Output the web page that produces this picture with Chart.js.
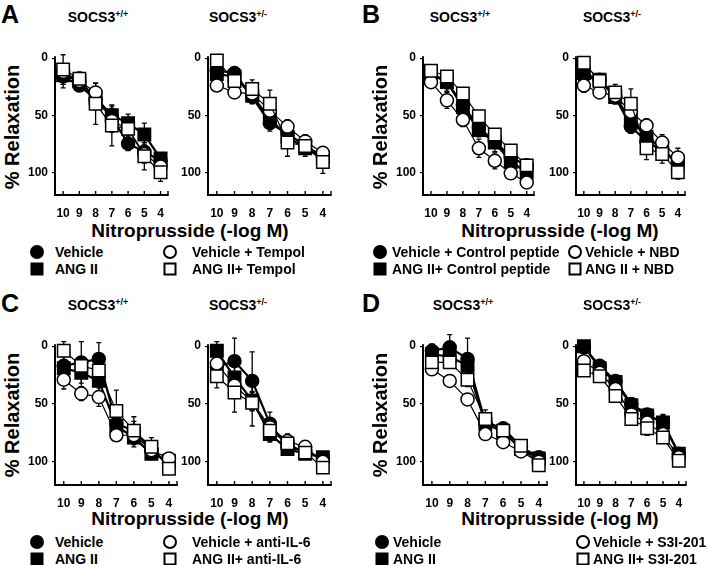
<!DOCTYPE html>
<html>
<head>
<meta charset="utf-8">
<script src="https://cdn.jsdelivr.net/npm/chart.js@4.4.1/dist/chart.umd.min.js"></script>
<style>
  body { margin: 0; background: #fff; }
  #fig { position: relative; width: 709px; height: 565px; overflow: hidden;
         font-family: "Liberation Sans", Arial, sans-serif; font-weight: bold; color: #000; }
  #fig canvas { position: absolute; }
  .t { position: absolute; white-space: nowrap; line-height: 1; }
  .c { transform: translate(-50%, -50%); }
  .letter { font-size: 25px; }
  .title { font-size: 14px; }
  .title sup { font-size: 9px; vertical-align: 5px; }
  .ytitle { font-size: 20px; transform: translate(-50%, -50%) rotate(-90deg); }
  .xtitle { font-size: 19px; }
  .leg { font-size: 14px; transform: translateY(-50%); }
  .mk { position: absolute; box-sizing: border-box; transform: translate(-50%, -50%); }
</style>
</head>
<body>
<div id="fig"></div>
<script>
// -log M of nitroprusside
var doses = [10, 9, 8, 7, 6, 5, 4];
var yTicks = [0, 50, 100];

// A: Tempol
var aWtVeh = [16, 24, 36, 52, 75, 82, 90];   var aWtVehSem = [10, 5, 8, 8, 6, 8, 4];
var aWtAng = [15, 20, 35, 50, 57, 67, 88];   var aWtAngSem = [8, 6, 10, 8, 8, 10, 5];
var aWtVehX = [12, 20, 30, 55, 62, 84, 95];  var aWtVehXSem = [6, 5, 8, 10, 8, 8, 6];
var aWtAngX = [10, 18, 40, 59, 62, 86, 100]; var aWtAngXSem = [13, 6, 18, 18, 10, 12, 8];
var aHetVeh = [11, 13, 34, 57, 66, 77, 86];  var aHetVehSem = [5, 5, 6, 7, 6, 5, 4];
var aHetAng = [14, 16, 33, 53, 69, 79, 87];  var aHetAngSem = [5, 4, 6, 6, 6, 5, 4];
var aHetVehX = [24, 30, 31, 46, 60, 73, 83]; var aHetVehXSem = [5, 4, 5, 6, 6, 6, 5];
var aHetAngX = [2, 20, 27, 40, 74, 77, 91];  var aHetAngXSem = [3, 5, 8, 12, 12, 9, 10];

// B: NBD
var bWtVeh = [13, 21, 41, 61, 73, 87, 94];   var bWtVehSem = [4, 6, 6, 6, 6, 5, 4];
var bWtAng = [14, 21, 43, 63, 74, 91, 100];  var bWtAngSem = [4, 8, 6, 6, 8, 5, 4];
var bWtVehX = [21, 37, 54, 79, 90, 101, 109]; var bWtVehXSem = [5, 7, 6, 8, 7, 4, 4];
var bWtAngX = [11, 16, 31, 51, 67, 81, 94];  var bWtAngXSem = [3, 3, 4, 4, 5, 4, 4];
var bHetVeh = [16, 19, 34, 60, 73, 81, 91];  var bHetVehSem = [8, 5, 6, 6, 5, 5, 5];
var bHetAng = [13, 19, 34, 54, 69, 79, 94];  var bHetAngSem = [5, 4, 6, 6, 6, 5, 5];
var bHetVehX = [24, 30, 33, 47, 59, 74, 87]; var bHetVehXSem = [6, 5, 5, 6, 6, 7, 8];
var bHetAngX = [4, 20, 30, 40, 79, 84, 100]; var bHetAngXSem = [4, 5, 7, 13, 10, 8, 6];

// C: anti-IL-6
var cWtVeh = [17, 14, 11, 67, 73, 90, 101];  var cWtVehSem = [16, 18, 14, 10, 8, 6, 3];
var cWtAng = [19, 23, 30, 69, 79, 93, 99];   var cWtAngSem = [10, 12, 10, 8, 8, 5, 3];
var cWtVehX = [29, 41, 44, 77, 77, 90, 97];  var cWtVehXSem = [8, 6, 8, 5, 5, 5, 3];
var cWtAngX = [4, 17, 21, 56, 73, 87, 106];  var cWtAngXSem = [8, 8, 10, 18, 12, 8, 4];
var cHetVeh = [18, 13, 30, 67, 87, 91, 97];  var cHetVehSem = [8, 20, 25, 10, 6, 5, 3];
var cHetAng = [4, 27, 47, 76, 89, 93, 96];   var cHetAngSem = [8, 10, 8, 6, 5, 4, 3];
var cHetVehX = [15, 34, 48, 70, 82, 87, 100]; var cHetVehXSem = [8, 8, 8, 6, 6, 4, 3];
var cHetAngX = [26, 40, 49, 73, 84, 92, 105]; var cHetAngXSem = [10, 17, 20, 10, 8, 5, 3];

// D: S3I-201
var dWtVeh = [4, 1, 11, 66, 71, 87, 96];     var dWtVehSem = [6, 11, 18, 6, 5, 4, 3];
var dWtAng = [7, 9, 17, 67, 74, 89, 97];     var dWtAngSem = [5, 6, 8, 7, 6, 4, 3];
var dWtVehX = [20, 30, 46, 76, 83, 91, 100]; var dWtVehXSem = [5, 5, 5, 5, 4, 4, 3];
var dWtAngX = [14, 14, 29, 63, 73, 86, 103]; var dWtAngXSem = [5, 5, 6, 8, 7, 5, 3];
var dHetVeh = [1, 17, 30, 50, 59, 66, 93];   var dHetVehSem = [2, 4, 4, 4, 5, 6, 3];
var dHetAng = [0, 19, 31, 51, 60, 66, 93];   var dHetAngSem = [2, 4, 4, 4, 5, 7, 3];
var dHetVehX = [13, 23, 37, 59, 66, 76, 96]; var dHetVehXSem = [3, 4, 5, 5, 6, 5, 3];
var dHetAngX = [21, 26, 43, 63, 71, 79, 99]; var dHetAngXSem = [3, 4, 5, 5, 6, 5, 3];

var legA = ['Vehicle', 'ANG II', 'Vehicle + Tempol', 'ANG II+ Tempol'];
var legB = ['Vehicle + Control peptide', 'ANG II+ Control peptide', 'Vehicle + NBD', 'ANG II + NBD'];
var legC = ['Vehicle', 'ANG II', 'Vehicle + anti-IL-6', 'ANG II+ anti-IL-6'];
var legD = ['Vehicle', 'ANG II', 'Vehicle + S3I-201', 'ANG II+ S3I-201'];

var fig = document.getElementById('fig');
var FONT = '"Liberation Sans", Arial, sans-serif';

// marker styles: filled circle, filled square, open circle, open square
var styles = [
	{ pointStyle: 'circle', r: 6.5, fill: '#000', lw: 2.2, order: 3 },
	{ pointStyle: 'rect', r: 8.8, fill: '#000', lw: 2.2, order: 2 },
	{ pointStyle: 'circle', r: 6.5, fill: '#fff', lw: 1.2, order: 1 },
	{ pointStyle: 'rect', r: 8.8, fill: '#fff', lw: 1.2, order: 0 }
];

var errorBars = {
	id: 'errorBars',
	beforeDatasetsDraw: function (chart) {
		var ctx = chart.ctx, xs = chart.scales.x, ys = chart.scales.y;
		ctx.save();
		ctx.strokeStyle = '#000';
		ctx.lineWidth = 1.3;
		chart.data.datasets.forEach(function (ds) {
			ds.data.forEach(function (p, i) {
				var px = xs.getPixelForValue(p.x);
				var y1 = ys.getPixelForValue(p.y - ds.sem[i]);
				var y2 = ys.getPixelForValue(p.y + ds.sem[i]);
				ctx.beginPath();
				ctx.moveTo(px, y1); ctx.lineTo(px, y2);
				ctx.moveTo(px - 2.5, y1); ctx.lineTo(px + 2.5, y1);
				ctx.moveTo(px - 2.5, y2); ctx.lineTo(px + 2.5, y2);
				ctx.stroke();
			});
		});
		ctx.restore();
	}
};

// axis lines, plus small tick marks pointing up from the x axis
var axesLines = {
	id: 'axesLines',
	afterDraw: function (chart) {
		var ctx = chart.ctx, xs = chart.scales.x, a = chart.chartArea;
		ctx.save();
		ctx.strokeStyle = '#000';
		ctx.lineWidth = 2;
		ctx.beginPath();
		ctx.moveTo(a.left, a.top);
		ctx.lineTo(a.left, a.bottom);
		ctx.lineTo(a.right, a.bottom);
		ctx.stroke();
		ctx.lineWidth = 1.4;
		ctx.beginPath();
		doses.forEach(function (d) {
			var px = xs.getPixelForValue(d);
			ctx.moveTo(px, a.bottom); ctx.lineTo(px, a.bottom - 4);
		});
		ctx.moveTo(a.right - 0.7, a.bottom); ctx.lineTo(a.right - 0.7, a.bottom - 4);
		ctx.stroke();
		ctx.restore();
	}
};

function addText(cls, html, x, y) {
	var d = document.createElement('div');
	d.className = 't ' + cls;
	d.innerHTML = html;
	d.style.left = x + 'px';
	d.style.top = y + 'px';
	fig.appendChild(d);
	return d;
}

function subplot(box, vals, sems) {
	var ppu = (box.b - box.t0) / 120;
	var top = Math.floor(box.t0 - ppu);
	var ymin = (top - box.t0) / ppu;
	var cv = document.createElement('canvas');
	cv.width = box.r - box.l + 50;
	cv.height = box.b - top + 40;
	cv.style.left = (box.l - 40) + 'px';
	cv.style.top = (top - 10) + 'px';
	fig.appendChild(cv);

	var datasets = vals.map(function (v, k) {
		var s = styles[k];
		return {
			data: v.map(function (y, i) { return { x: doses[i], y: y }; }),
			sem: sems[k],
			order: s.order,
			borderColor: '#000',
			borderWidth: s.lw,
			pointStyle: s.pointStyle,
			pointRadius: s.r,
			pointBackgroundColor: s.fill,
			pointBorderColor: '#000',
			pointBorderWidth: 1.5,
			tension: 0,
			clip: false
		};
	});

	new Chart(cv, {
		type: 'line',
		data: { datasets: datasets },
		options: {
			responsive: false,
			animation: false,
			layout: { padding: { top: 10, right: 10, left: 0, bottom: 0 } },
			plugins: { legend: { display: false }, tooltip: { enabled: false } },
			scales: {
				x: {
					type: 'linear', reverse: true, min: 3.5, max: 10.5,
					afterBuildTicks: function (s) { s.ticks = doses.map(function (d) { return { value: d }; }); },
					afterFit: function (s) { s.height = 30; },
					grid: { display: false, drawTicks: false },
					border: { display: false },
					ticks: { color: '#000', padding: 11, maxRotation: 0, minRotation: 0, autoSkip: false,
						font: { family: FONT, size: 12, weight: 'bold' } }
				},
				y: {
					type: 'linear', reverse: true, min: ymin, max: 120,
					afterBuildTicks: function (s) { s.ticks = yTicks.map(function (d) { return { value: d }; }); },
					afterFit: function (s) { s.width = 40; },
					grid: { display: true, drawOnChartArea: false, drawTicks: true, tickLength: 3, color: '#000', lineWidth: 1.2 },
					border: { display: false },
					ticks: { color: '#000', padding: 4,
						font: { family: FONT, size: 12, weight: 'bold' } }
				}
			}
		},
		plugins: [errorBars, axesLines]
	});
}

function legendMarker(k, x, y) {
	var m = document.createElement('div');
	m.className = 'mk';
	var round = (k === 0 || k === 2);
	var size = round ? 14 : 13;
	m.style.width = size + 'px';
	m.style.height = size + 'px';
	m.style.left = x + 'px';
	m.style.top = y + 'px';
	if (round) m.style.borderRadius = '50%';
	if (k < 2) m.style.background = '#000';
	else { m.style.background = '#fff'; m.style.border = '2px solid #000'; }
	fig.appendChild(m);
}

function panel(p) {
	addText('letter', p.letter, p.lx, p.ly);
	addText('title c', 'SOCS3<sup>+/+</sup>', p.t1x, p.ty);
	addText('title c', 'SOCS3<sup>+/-</sup>', p.t2x, p.ty);
	addText('ytitle', '% Relaxation', p.yx, p.yy);
	addText('xtitle c', 'Nitroprusside (-log M)', p.xx, p.xy);
	subplot(p.box1, p.wt, p.wtSem);
	subplot(p.box2, p.het, p.hetSem);
	for (var k = 0; k < 4; k++) {
		var col = k < 2 ? 0 : 1;
		var row = k % 2;
		var y = p.legY + row * 16.5;
		legendMarker(k, p.mx[col], y);
		addText('leg', p.leg[k], p.tx[col], y);
	}
}

panel({
	letter: 'A', lx: 1, ly: 2, t1x: 98, t2x: 238, ty: 17, yx: 12, yy: 127, xx: 190, xy: 230,
	box1: { l: 55, r: 169, t0: 57, b: 195 }, box2: { l: 208, r: 332, t0: 57, b: 195 },
	wt: [aWtVeh, aWtAng, aWtVehX, aWtAngX], wtSem: [aWtVehSem, aWtAngSem, aWtVehXSem, aWtAngXSem],
	het: [aHetVeh, aHetAng, aHetVehX, aHetAngX], hetSem: [aHetVehSem, aHetAngSem, aHetVehXSem, aHetAngXSem],
	leg: legA, legY: 252, mx: [37, 170], tx: [55, 192]
});
panel({
	letter: 'B', lx: 362, ly: 2, t1x: 460, t2x: 612, ty: 17, yx: 380, yy: 127, xx: 560, xy: 230,
	box1: { l: 423, r: 535, t0: 57, b: 195 }, box2: { l: 576, r: 686, t0: 57, b: 195 },
	wt: [bWtVeh, bWtAng, bWtVehX, bWtAngX], wtSem: [bWtVehSem, bWtAngSem, bWtVehXSem, bWtAngXSem],
	het: [bHetVeh, bHetAng, bHetVehX, bHetAngX], hetSem: [bHetVehSem, bHetAngSem, bHetVehXSem, bHetAngXSem],
	leg: legB, legY: 252, mx: [380, 575], tx: [392, 585]
});
panel({
	letter: 'C', lx: 1, ly: 291, t1x: 98, t2x: 238, ty: 305, yx: 12, yy: 415, xx: 190, xy: 518,
	box1: { l: 55, r: 178, t0: 345, b: 485 }, box2: { l: 208, r: 332, t0: 345, b: 485 },
	wt: [cWtVeh, cWtAng, cWtVehX, cWtAngX], wtSem: [cWtVehSem, cWtAngSem, cWtVehXSem, cWtAngXSem],
	het: [cHetVeh, cHetAng, cHetVehX, cHetAngX], hetSem: [cHetVehSem, cHetAngSem, cHetVehXSem, cHetAngXSem],
	leg: legC, legY: 542, mx: [37, 170], tx: [55, 192]
});
panel({
	letter: 'D', lx: 362, ly: 291, t1x: 463, t2x: 612, ty: 305, yx: 380, yy: 415, xx: 560, xy: 518,
	box1: { l: 423, r: 548, t0: 345, b: 485 }, box2: { l: 576, r: 687, t0: 345, b: 485 },
	wt: [dWtVeh, dWtAng, dWtVehX, dWtAngX], wtSem: [dWtVehSem, dWtAngSem, dWtVehXSem, dWtAngXSem],
	het: [dHetVeh, dHetAng, dHetVehX, dHetAngX], hetSem: [dHetVehSem, dHetAngSem, dHetVehXSem, dHetAngXSem],
	leg: legD, legY: 542, mx: [382, 583], tx: [393, 593]
});
</script>
</body>
</html>
